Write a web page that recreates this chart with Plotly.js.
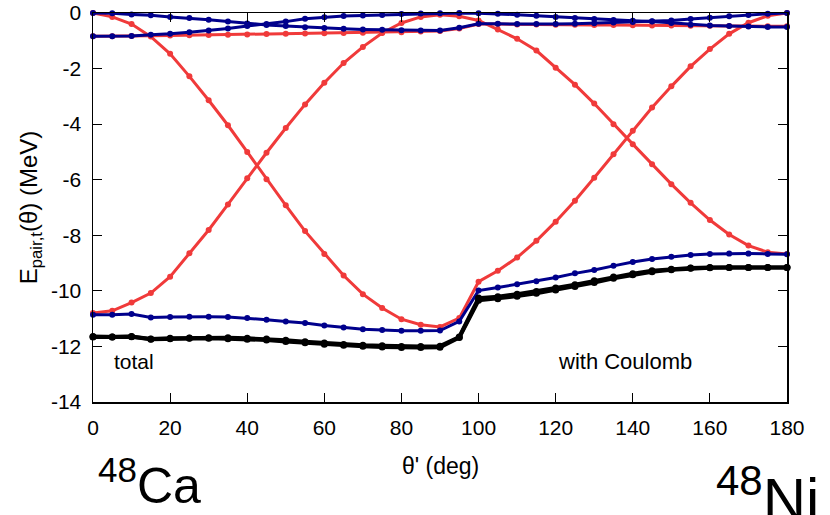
<!DOCTYPE html>
<html>
<head>
<meta charset="utf-8">
<script src="https://cdn.plot.ly/plotly-3.0.1.min.js"></script>
<style>html,body{margin:0;padding:0;background:#fff;}#chart{width:830px;height:515px;}</style>
</head>
<body>
<div id="chart"></div>
<script>
const theta = [0,5,10,15,20,25,30,35,40,45,50,55,60,65,70,75,80,85,90,95,100,105,110,115,120,125,130,135,140,145,150,155,160,165,170,175,180];

const red1 = [0,-0.14,-0.40,-0.85,-1.47,-2.28,-3.14,-4.04,-5.00,-5.98,-6.92,-7.85,-8.67,-9.45,-10.12,-10.62,-11.02,-11.22,-11.30,-10.98,-9.67,-9.28,-8.80,-8.20,-7.51,-6.76,-5.93,-5.08,-4.24,-3.40,-2.64,-1.92,-1.30,-0.75,-0.35,-0.10,0];
const red2 = [-10.80,-10.72,-10.42,-10.08,-9.49,-8.65,-7.81,-6.89,-5.95,-5.03,-4.14,-3.29,-2.51,-1.80,-1.22,-0.72,-0.36,-0.14,-0.06,-0.12,-0.27,-0.59,-0.93,-1.35,-1.97,-2.58,-3.26,-4.00,-4.72,-5.44,-6.16,-6.83,-7.45,-7.97,-8.37,-8.61,-8.67];
const red3 = [-0.84,-0.84,-0.83,-0.82,-0.81,-0.80,-0.79,-0.78,-0.77,-0.76,-0.75,-0.74,-0.73,-0.72,-0.71,-0.70,-0.69,-0.67,-0.65,-0.56,-0.40,-0.40,-0.41,-0.41,-0.42,-0.42,-0.43,-0.43,-0.44,-0.45,-0.45,-0.46,-0.46,-0.47,-0.47,-0.48,-0.48];

const blue1 = [0,-0.01,-0.05,-0.08,-0.14,-0.18,-0.24,-0.31,-0.38,-0.43,-0.47,-0.51,-0.54,-0.57,-0.59,-0.60,-0.62,-0.63,-0.63,-0.53,-0.39,-0.39,-0.40,-0.40,-0.40,-0.39,-0.37,-0.34,-0.32,-0.30,-0.27,-0.22,-0.17,-0.12,-0.07,-0.03,0];
const blue2 = [-0.84,-0.84,-0.83,-0.78,-0.75,-0.69,-0.63,-0.56,-0.47,-0.40,-0.31,-0.21,-0.15,-0.11,-0.09,-0.07,-0.04,-0.02,-0.01,0,-0.01,-0.03,-0.06,-0.10,-0.14,-0.18,-0.22,-0.25,-0.28,-0.31,-0.36,-0.42,-0.45,-0.47,-0.49,-0.50,-0.50];
const blue3 = [-10.86,-10.86,-10.83,-10.96,-10.94,-10.93,-10.93,-10.94,-10.98,-11.04,-11.10,-11.16,-11.25,-11.32,-11.38,-11.41,-11.44,-11.44,-11.43,-11.10,-9.99,-9.88,-9.76,-9.65,-9.52,-9.37,-9.25,-9.10,-8.96,-8.85,-8.77,-8.71,-8.67,-8.66,-8.66,-8.67,-8.68];

const total1 = [-11.64,-11.66,-11.64,-11.73,-11.71,-11.70,-11.69,-11.69,-11.71,-11.73,-11.78,-11.83,-11.88,-11.93,-11.96,-11.98,-12.00,-12.00,-11.99,-11.66,-10.26,-10.21,-10.12,-10.02,-9.90,-9.78,-9.64,-9.50,-9.38,-9.28,-9.22,-9.18,-9.16,-9.16,-9.16,-9.16,-9.16];
const total2 = [-11.66,-11.66,-11.65,-11.74,-11.72,-11.71,-11.71,-11.72,-11.74,-11.77,-11.82,-11.87,-11.92,-11.96,-11.99,-12.02,-12.04,-12.04,-12.03,-11.68,-10.34,-10.28,-10.19,-10.09,-9.97,-9.84,-9.70,-9.55,-9.42,-9.31,-9.24,-9.19,-9.17,-9.16,-9.16,-9.16,-9.16];

const xTicks = [0,20,40,60,80,100,120,140,160,180];
const yTicks = [0,-2,-4,-6,-8,-10,-12,-14];

const RED = '#f03a3a', BLUE = '#00008c', BLACK = '#000000';
function tr(y, color, w, ms){
  return {x: theta, y: y, type:'scatter', mode:'lines+markers', cliponaxis:false,
    line:{color:color, width:w}, marker:{color:color, size:ms}, hoverinfo:'skip', showlegend:false};
}
const data = [
  tr(red1, RED, 3, 6), tr(red2, RED, 3, 6), tr(red3, RED, 3, 6),
  tr(blue1, BLUE, 3, 6), tr(blue2, BLUE, 3, 6), tr(blue3, BLUE, 3, 6),
  tr(total1, BLACK, 4, 7), tr(total2, BLACK, 4, 7)
];

const FONT = 'Liberation Sans, Arial, sans-serif';
const layout = {
  width:830, height:515,
  margin:{l:93, r:43, t:12.5, b:112.6},
  paper_bgcolor:'#fff', plot_bgcolor:'#fff',
  font:{family:FONT, color:'#000'},
  xaxis:{range:[0,180], tickvals:xTicks, ticktext:xTicks.map(String), ticks:'inside', ticklen:9, tickwidth:1.2,
    tickcolor:'#000', mirror:'ticks', showline:true, linecolor:'#000', linewidth:1.5, showgrid:false, zeroline:false,
    tickfont:{size:21, family:FONT}, ticklabelstandoff:6, title:{text:''}},
  yaxis:{range:[-14,0], tickvals:yTicks, ticktext:yTicks.map(String), ticks:'inside', ticklen:9, tickwidth:1.2,
    tickcolor:'#000', mirror:'ticks', showline:true, linecolor:'#000', linewidth:1.5, showgrid:false, zeroline:false,
    tickfont:{size:21, family:FONT}, ticklabelstandoff:6,
    title:{text:'E<sub>pair,t</sub>(θ) (MeV)', font:{size:24, family:FONT}, standoff:6}},
  annotations:[
    {xref:'paper', yref:'paper', x:0.5, y:-0.165, xanchor:'center', yanchor:'middle', text:"θ' (deg)", showarrow:false, font:{size:23, family:FONT}},
    {xref:'x', yref:'y', x:5, y:-12.55, xanchor:'left', yanchor:'middle', text:'total', showarrow:false, font:{size:21, family:FONT}},
    {xref:'x', yref:'y', x:120, y:-12.55, xanchor:'left', yanchor:'middle', text:'with Coulomb', showarrow:false, font:{size:22, family:FONT}},
    {xref:'paper', yref:'paper', x:0.005, y:-0.205, xanchor:'left', yanchor:'middle', text:'<sup>48</sup>Ca', showarrow:false, font:{size:50, family:FONT}},
    {xref:'paper', yref:'paper', x:0.8945, y:-0.238, xanchor:'left', yanchor:'middle', text:'<sup>48</sup>Ni', showarrow:false, font:{size:60, family:FONT}}
  ]
};
Plotly.newPlot('chart', data, layout, {staticPlot:true, displayModeBar:false});
</script>
</body>
</html>
